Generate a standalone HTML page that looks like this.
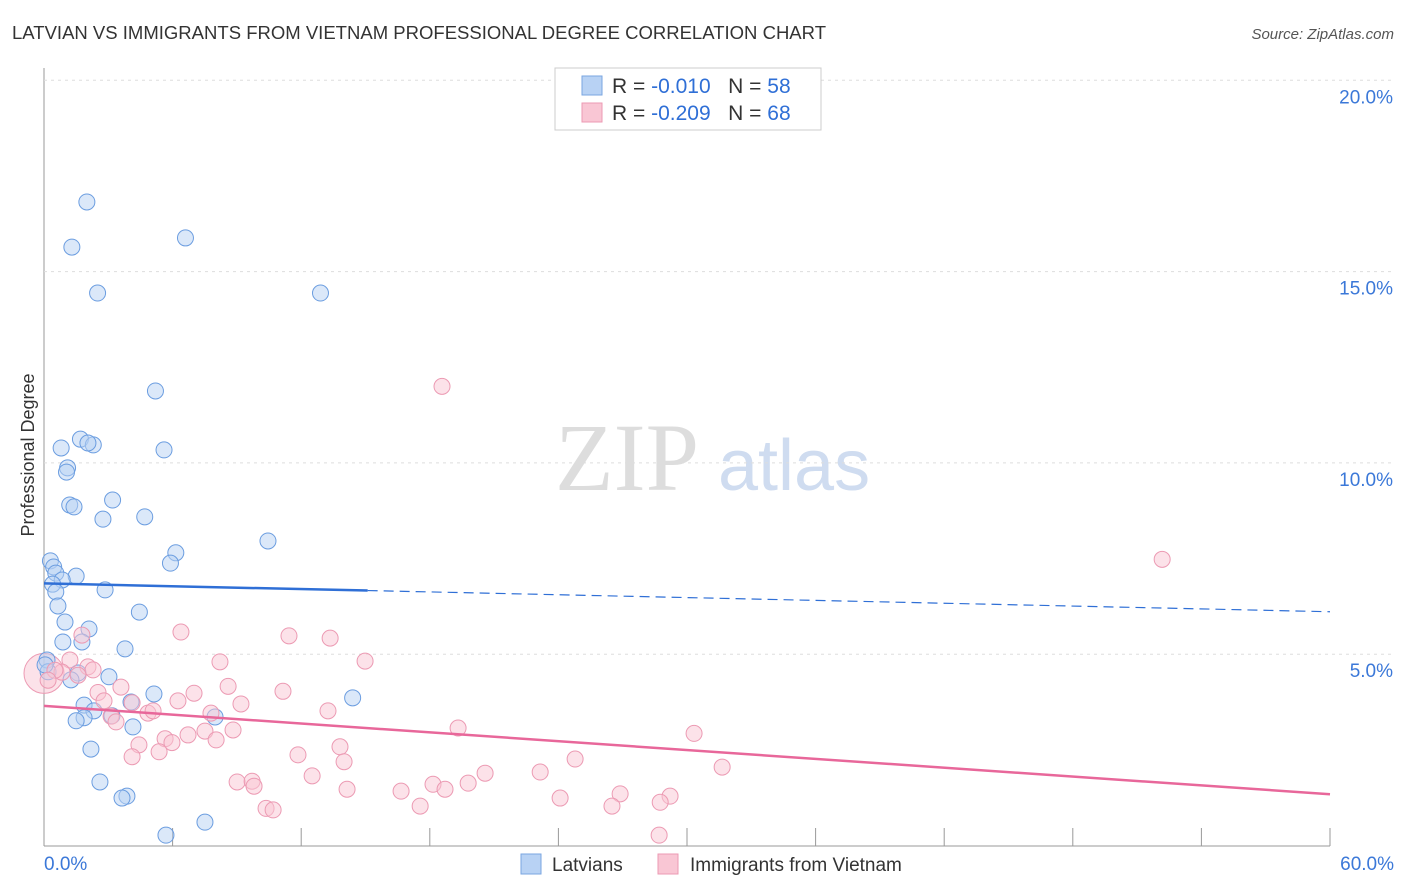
<!DOCTYPE html>
<html><head><meta charset="utf-8"><style>
body{margin:0;background:#fff;font-family:"Liberation Sans",sans-serif}
svg{display:block}
</style></head><body>
<svg id="c" width="1406" height="892">
<text x="12" y="39" font-size="18" fill="#333" textLength="814" lengthAdjust="spacingAndGlyphs">LATVIAN VS IMMIGRANTS FROM VIETNAM PROFESSIONAL DEGREE CORRELATION CHART</text>
<text x="1394" y="39" font-size="15" fill="#555" font-style="italic" text-anchor="end">Source: ZipAtlas.com</text>
<text x="34" y="455" font-size="18" fill="#333" text-anchor="middle" transform="rotate(-90 34 455)">Professional Degree</text>
<text x="555" y="490" font-size="96" fill="#ddd" font-family="Liberation Serif,serif">ZIP</text>
<text x="718" y="490" font-size="72" fill="#cfdcf0">atlas</text>
<g id="grid"></g><g id="pts"></g><g id="lines"></g>
<g>
<rect x="555" y="68" width="266" height="62" fill="#fff" stroke="#ccc"/>
<rect x="582" y="76" width="20" height="19" fill="#b8d2f4" stroke="#7aa6e0"/>
<rect x="582" y="103" width="20" height="19" fill="#f9c6d4" stroke="#ec9ab3"/>
<text x="612" y="93" font-size="21" fill="#333">R = <tspan fill="#2f6fd6">-0.010</tspan>&#160;&#160;&#160;N = <tspan fill="#2f6fd6">58</tspan></text>
<text x="612" y="120" font-size="21" fill="#333">R = <tspan fill="#2f6fd6">-0.209</tspan>&#160;&#160;&#160;N = <tspan fill="#2f6fd6">68</tspan></text>
</g>
<g>
<rect x="521" y="854" width="20" height="20" fill="#b8d2f4" stroke="#7aa6e0"/>
<text x="552" y="871" font-size="19" fill="#333">Latvians</text>
<rect x="658" y="854" width="20" height="20" fill="#f9c6d4" stroke="#ec9ab3"/>
<text x="690" y="871" font-size="19" fill="#333">Immigrants from Vietnam</text>
</g>
</svg>
<script>
const yTicks=[5,10,15,20];
const xTickLabels=["0.0%","60.0%"];
const blueX=[2,1.3,6.6,2.5,12.9,5.2,0.8,1.7,2.3,2.05,5.6,1.1,1.05,1.2,1.4,3.2,2.75,4.7,10.45,6.15,5.9,0.3,0.45,0.55,1.5,0.85,0.4,0.55,2.85,0.65,4.45,0.98,2.1,0.88,1.77,3.78,0.14,1.59,1.26,3.03,5.13,14.4,1.87,4.06,2.33,3.17,1.87,1.5,7.98,4.15,2.19,2.61,3.87,3.64,7.51,5.69,0.19,0.05];
const blueY=[16.82,15.64,15.88,14.44,14.44,11.88,10.39,10.62,10.47,10.52,10.34,9.87,9.76,8.9,8.85,9.03,8.53,8.59,7.96,7.65,7.38,7.44,7.28,7.12,7.04,6.94,6.83,6.63,6.68,6.26,6.1,5.84,5.66,5.32,5.32,5.14,4.85,4.51,4.33,4.41,3.96,3.86,3.67,3.75,3.52,3.39,3.34,3.26,3.36,3.1,2.52,1.66,1.29,1.24,0.61,0.27,4.54,4.72];
const pinkX=[18.57,52.17,6.39,11.43,13.35,1.77,8.21,14.98,2.05,2.29,1.21,0.84,1.59,0.51,0.19,2.52,3.59,7.0,8.59,11.15,2.8,4.11,6.25,9.19,4.85,5.09,7.79,3.13,3.36,13.25,19.32,30.33,8.82,7.51,6.72,8.03,5.65,5.97,4.43,4.11,5.37,13.81,11.85,14.0,24.78,31.64,20.58,23.15,12.51,9.01,9.71,9.8,18.15,19.79,14.14,16.66,18.71,26.88,29.21,24.08,28.75,26.5,10.36,10.69,17.55,28.7];
const pinkY=[12.0,7.48,5.58,5.48,5.42,5.5,4.8,4.82,4.67,4.59,4.85,4.53,4.45,4.58,4.32,4.0,4.14,3.98,4.16,4.03,3.78,3.73,3.78,3.7,3.46,3.52,3.46,3.38,3.23,3.52,3.07,2.93,3.02,2.99,2.89,2.76,2.79,2.69,2.63,2.32,2.45,2.58,2.37,2.19,2.26,2.05,1.89,1.92,1.82,1.66,1.68,1.55,1.6,1.63,1.47,1.42,1.47,1.35,1.29,1.24,1.13,1.03,0.97,0.93,1.03,0.27];
const blueTrend=[6.85,6.11];
const pinkTrend=[3.65,1.34];
const ns="http://www.w3.org/2000/svg";
const X=v=>44+v*(1286/60), Y=v=>845.5-v*38.26;
const svg=document.getElementById('c');
const grid=document.getElementById('grid');
function mk(t,a,p){const e=document.createElementNS(ns,t);for(const k in a)e.setAttribute(k,a[k]);p.appendChild(e);return e;}
let ax=mk('line',{x1:44,y1:68,x2:44,y2:846,stroke:'#999'},grid);


let bx=mk('line',{x1:44,y1:846,x2:1330,y2:846,stroke:'#999'},grid);


for(let i=0;i<=10;i++){let t=mk('line',{x1:X(i*6),x2:X(i*6),y1:828,y2:846,stroke:'#999'},grid);

}
yTicks.forEach(v=>{let g=mk('line',{x1:44,x2:1394,y1:Y(v),y2:Y(v),stroke:'#ddd','stroke-dasharray':'3,4'},grid);


let t=mk('text',{x:1393,y:Y(v)+23,'font-size':19,fill:'#3b78d8','text-anchor':'end'},grid);t.textContent=v.toFixed(1)+'%';

});
[[0,'start',44],[60,'end',1394]].forEach((d,i)=>{let t=mk('text',{x:d[2],y:870,'font-size':19,fill:'#3b78d8','text-anchor':d[1]},grid);t.textContent=xTickLabels[i];

});
const pts=document.getElementById('pts');
let big=mk('circle',{cx:44,cy:Y(4.5),r:20,fill:'rgba(249,198,212,0.5)',stroke:'#ec9ab3'},pts);


blueX.forEach((x,i)=>{let c=mk('circle',{cx:X(x),cy:Y(blueY[i]),r:8,fill:'rgba(184,210,244,0.5)',stroke:'#6b9de0','stroke-width':1},pts);

});
pinkX.forEach((x,i)=>{let c=mk('circle',{cx:X(x),cy:Y(pinkY[i]),r:8,fill:'rgba(249,198,212,0.5)',stroke:'#ec9ab3','stroke-width':1},pts);

});
const L=document.getElementById('lines');
const by=x=>blueTrend[0]+(blueTrend[1]-blueTrend[0])*x/60;
let l1=mk('line',{x1:X(0),y1:Y(by(0)),x2:X(15.1),y2:Y(by(15.1)),stroke:'#2f6fd6','stroke-width':2.5},L);


let l2=mk('line',{x1:X(15.1),y1:Y(by(15.1)),x2:X(60),y2:Y(by(60)),stroke:'#2f6fd6','stroke-width':1.2,'stroke-dasharray':'10,6'},L);


let l3=mk('line',{x1:X(0),y1:Y(pinkTrend[0]),x2:X(60),y2:Y(pinkTrend[1]),stroke:'#e8679a','stroke-width':2.5},L);


</script>
</body></html>
